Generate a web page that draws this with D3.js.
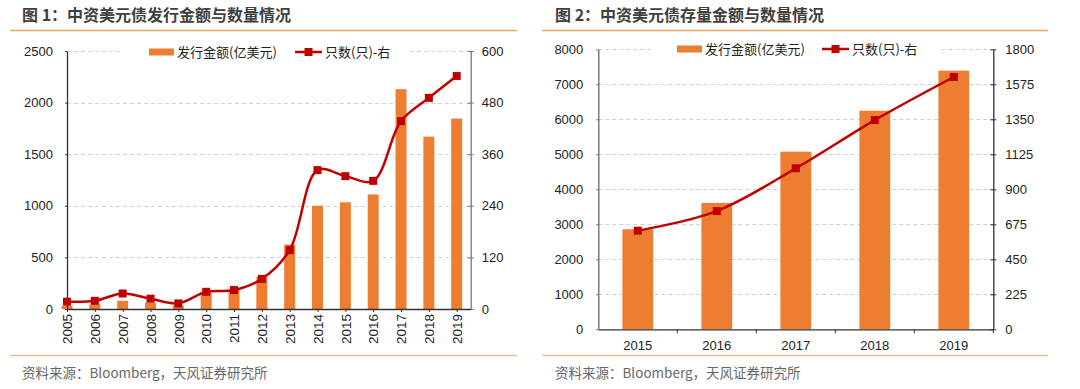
<!DOCTYPE html>
<html>
<head>
<meta charset="utf-8">
<script src="https://cdn.jsdelivr.net/npm/d3@7"></script>
<style>
  body { margin: 0; background: #fff; }
  svg { display: block; font-family: "Liberation Sans", Arial, "Noto Sans CJK SC", sans-serif; }
</style>
</head>
<body>
<svg width="1080" height="389"></svg>
<script>
// chart 1: issuance
const years1 = ["2005","2006","2007","2008","2009","2010","2011","2012","2013","2014","2015","2016","2017","2018","2019"];
const amount1 = [30, 45, 80, 62, 30, 160, 190, 310, 625, 1000, 1034, 1110, 2130, 1670, 1845];
const count1 = [17, 19, 36, 24, 13, 40, 44, 70, 137, 323, 309, 298, 437, 491, 542];
const leftTicks1 = [0, 500, 1000, 1500, 2000, 2500];
const rightTicks1 = [0, 120, 240, 360, 480, 600];

// chart 2: outstanding
const years2 = ["2015","2016","2017","2018","2019"];
const amount2 = [2857, 3610, 5075, 6245, 7390];
const count2 = [634, 760, 1035, 1345, 1622];
const leftTicks2 = [0, 1000, 2000, 3000, 4000, 5000, 6000, 7000, 8000];
const rightTicks2 = [0, 225, 450, 675, 900, 1125, 1350, 1575, 1800];

const barName = "发行金额(亿美元)";
const lineName = "只数(只)-右";
const source = "资料来源：Bloomberg，天风证券研究所";

const orange = "#ED7D31", red = "#C00000", grid = "#d0d0d0";
const cjk = "'Noto Sans CJK SC', sans-serif";
const fmt = d3.format("d");

let svg = d3.select("svg");
svg.append("rect").attr("width", 1080).attr("height", 389).attr("fill", "#fff");

function frame(x0, x1, title, tx) {
  svg.append("text").attr("x", tx).attr("y", 21)
    .attr("font-family", cjk).attr("font-weight", "bold").attr("font-size", 16)
    .attr("fill", "#404040").text(title);
  svg.append("line").attr("x1", x0).attr("x2", x1).attr("y1", 30.5).attr("y2", 30.5)
    .attr("stroke", "#EBA560").attr("stroke-width", 1.5);
  svg.append("line").attr("x1", x0).attr("x2", x1).attr("y1", 355.5).attr("y2", 355.5)
    .attr("stroke", "#E8BF8E").attr("stroke-width", 1.5);
  svg.append("text").attr("x", tx).attr("y", 378)
    .attr("font-family", cjk).attr("font-size", 13.5)
    .attr("fill", "#666").text(source);
}

function legend(box, rx, lx) {
  svg.append("rect").attr("x", box[0]).attr("y", box[1]).attr("width", box[2] - box[0]).attr("height", 14).attr("fill", "#fff");
  let cy = box[1] + 7;
  svg.append("rect").attr("x", rx).attr("y", cy - 3.5).attr("width", 25).attr("height", 7).attr("fill", orange);
  svg.append("text").attr("x", rx + 28).attr("y", cy).attr("dy", "0.35em")
    .attr("font-family", cjk).attr("font-size", 13).attr("fill", "#222").text(barName);
  svg.append("line").attr("x1", lx).attr("x2", lx + 27).attr("y1", cy).attr("y2", cy)
    .attr("stroke", red).attr("stroke-width", 2.5);
  svg.append("rect").attr("x", lx + 13.5 - 4).attr("y", cy - 4).attr("width", 8).attr("height", 8).attr("fill", red);
  svg.append("text").attr("x", lx + 30).attr("y", cy).attr("dy", "0.35em")
    .attr("font-family", cjk).attr("font-size", 13).attr("fill", "#222").text(lineName);
}

function gridLines(y, ticks, x0, x1) {
  svg.append("g").selectAll("line").data(ticks.slice(1)).enter().append("line")
    .attr("x1", x0).attr("x2", x1)
    .attr("y1", d => Math.round(y(d)) + 0.5).attr("y2", d => Math.round(y(d)) + 0.5)
    .attr("stroke", grid).attr("stroke-dasharray", "4,3");
}

function styleAxis(g, color) {
  g.select(".domain").attr("stroke", color).attr("stroke-width", 1.3);
  g.selectAll(".tick line").attr("stroke", color);
  g.selectAll(".tick text").attr("fill", "#222").attr("font-size", 13);
}

// ---------- chart 1 ----------
(function() {
  let left = 67, right = 470.7, top = 51, bottom = 309;
  let x = d3.scalePoint().domain(years1).range([67, 456.7]);
  let y = d3.scaleLinear().domain([0, 2500]).range([bottom, top]);
  let y2 = d3.scaleLinear().domain([0, 600]).range([bottom, top]);

  frame(10, 517, "图 1：中资美元债发行金额与数量情况", 22);
  gridLines(y, leftTicks1, left, right);
  legend([120, 45, 411], 149, 295);

  svg.append("g").selectAll("rect").data(amount1).enter().append("rect")
    .attr("x", (d, i) => x(years1[i]) - 5.5)
    .attr("width", 11)
    .attr("y", d => y(d))
    .attr("height", d => bottom - y(d))
    .attr("fill", orange);

  let gl = svg.append("g").attr("transform", "translate(" + left + ",0)")
    .call(d3.axisLeft(y).tickValues(leftTicks1).tickFormat(fmt).tickSizeInner(2).tickSizeOuter(0).tickPadding(12));
  styleAxis(gl, "#333");

  let gr = svg.append("g").attr("transform", "translate(" + right + ",0)")
    .call(d3.axisRight(y2).tickValues(rightTicks1).tickFormat(fmt).tickSizeInner(3).tickSizeOuter(0).tickPadding(8));
  styleAxis(gr, "#777");
  gr.selectAll(".tick line").attr("x1", -3);

  let gx = svg.append("g").attr("transform", "translate(0," + bottom + ")")
    .call(d3.axisBottom(x).tickSizeInner(3).tickSizeOuter(0).tickPadding(4));
  gx.select(".domain").attr("d", "M" + left + ",0.5H" + right).attr("stroke", "#333").attr("stroke-width", 1.3);
  gx.selectAll(".tick line").attr("stroke", "#333");
  gx.selectAll(".tick text").attr("fill", "#222").attr("font-size", 13.5)
    .attr("transform", "rotate(-90)").attr("text-anchor", "end")
    .attr("x", -5).attr("y", 0).attr("dy", "0.35em");

  let line = d3.line().x((d, i) => x(years1[i])).y(d => y2(d)).curve(d3.curveCatmullRom.alpha(0.5));
  svg.append("path").datum(count1).attr("d", line).attr("fill", "none")
    .attr("stroke", red).attr("stroke-width", 2.5);
  svg.append("g").selectAll("rect").data(count1).enter().append("rect")
    .attr("x", (d, i) => x(years1[i]) - 4).attr("y", d => y2(d) - 4)
    .attr("width", 8).attr("height", 8).attr("fill", red);
})();

// ---------- chart 2 ----------
(function() {
  let left = 598.3, right = 993.3, top = 49.3, bottom = 329.3;
  let x = d3.scaleBand().domain(years2).range([left, right]).paddingInner(0.61).paddingOuter(0.305);
  let y = d3.scaleLinear().domain([0, 8000]).range([bottom, top]);
  let y2 = d3.scaleLinear().domain([0, 1800]).range([bottom, top]);

  frame(542, 1048, "图 2：中资美元债存量金额与数量情况", 555);
  gridLines(y, leftTicks2, left, right);
  legend([650, 42, 940], 677, 822);

  svg.append("g").selectAll("rect").data(amount2).enter().append("rect")
    .attr("x", (d, i) => x(years2[i]))
    .attr("width", x.bandwidth())
    .attr("y", d => y(d))
    .attr("height", d => bottom - y(d))
    .attr("fill", orange);

  let gl = svg.append("g").attr("transform", "translate(" + left + ",0)")
    .call(d3.axisLeft(y).tickValues(leftTicks2).tickFormat(fmt).tickSizeInner(2).tickSizeOuter(0).tickPadding(13));
  styleAxis(gl, "#666");

  let gr = svg.append("g").attr("transform", "translate(" + right + ",0)")
    .call(d3.axisRight(y2).tickValues(rightTicks2).tickFormat(fmt).tickSizeInner(3).tickSizeOuter(0).tickPadding(9));
  styleAxis(gr, "#333");
  gr.selectAll(".tick line").attr("x1", -3);

  let xb = d3.scaleBand().domain(years2).range([left, right]);
  let gx = svg.append("g").attr("transform", "translate(0," + bottom + ")")
    .call(d3.axisBottom(xb).tickSize(0).tickPadding(11));
  gx.select(".domain").attr("stroke", "#333").attr("stroke-width", 1.3);
  gx.selectAll(".tick text").attr("fill", "#222").attr("font-size", 13);
  gx.append("g").selectAll("line").data(years2).enter().append("line")
    .attr("x1", d => xb(d) + xb.bandwidth()).attr("x2", d => xb(d) + xb.bandwidth())
    .attr("y1", 0).attr("y2", 4).attr("stroke", "#333");

  let line = d3.line().x((d, i) => x(years2[i]) + x.bandwidth() / 2).y(d => y2(d)).curve(d3.curveCatmullRom.alpha(0.5));
  svg.append("path").datum(count2).attr("d", line).attr("fill", "none")
    .attr("stroke", red).attr("stroke-width", 2.5);
  svg.append("g").selectAll("rect").data(count2).enter().append("rect")
    .attr("x", (d, i) => x(years2[i]) + x.bandwidth() / 2 - 4).attr("y", d => y2(d) - 4)
    .attr("width", 8).attr("height", 8).attr("fill", red);
})();
</script>
</body>
</html>
